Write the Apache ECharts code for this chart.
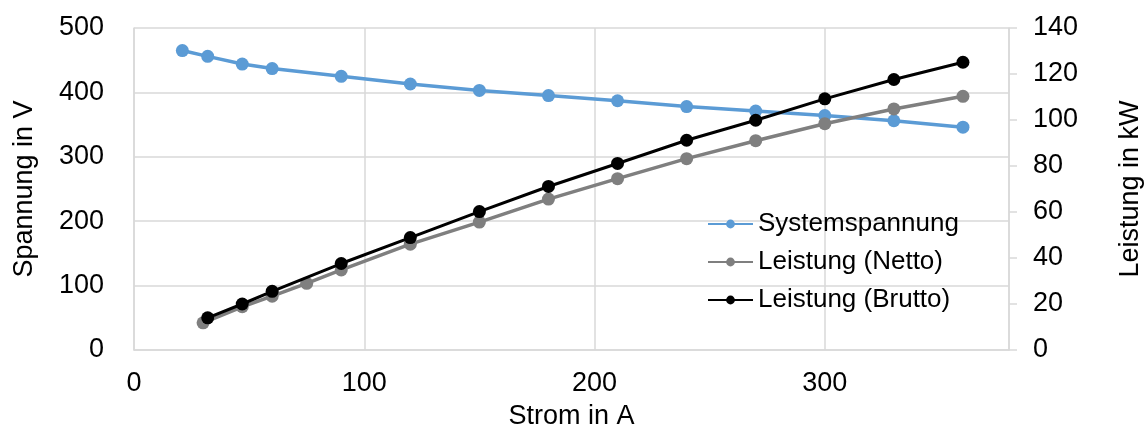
<!DOCTYPE html>
<html><head><meta charset="utf-8">
<script src="https://cdn.jsdelivr.net/npm/echarts@6/dist/echarts.min.js"></script>
<style>html,body{margin:0;padding:0;background:#fff}#c{width:1145px;height:433px}</style>
</head><body><div id="c"></div>
<script>
var voltX = [21, 32, 47, 60, 90, 120, 150, 180, 210, 240, 270, 300, 330, 360];
var voltY = [465, 456, 444, 437, 425, 413, 403, 395, 387, 378, 371, 364, 356, 346];
var nettoX = [30, 47, 60, 75, 90, 120, 150, 180, 210, 240, 270, 300, 330, 360];
var nettoY = [11.8, 18.8, 23.4, 29.0, 34.8, 46.0, 55.6, 65.6, 74.5, 83.2, 91.0, 98.4, 104.8, 110.3];
var bruttoX = [32, 47, 60, 90, 120, 150, 180, 210, 240, 270, 300, 330, 360];
var bruttoY = [14.0, 20.0, 25.5, 37.6, 48.9, 60.2, 71.1, 81.1, 91.2, 99.9, 109.2, 117.6, 125.1];
var seriesNames = ['Systemspannung', 'Leistung (Netto)', 'Leistung (Brutto)'];
function pairs(xs, ys){ return xs.map(function(x,i){ return [x, ys[i]]; }); }
var F = 'Liberation Sans, Arial, sans-serif';
var chart = echarts.init(document.getElementById('c'), null, {renderer:'canvas'});
chart.setOption({
  animation: false,
  textStyle: {fontFamily: F},
  grid: {left: 134, right: 136, top: 28, bottom: 83, containLabel: false, outerBoundsMode: 'none'},
  legend: {
    orient: 'vertical', left: 702, top: 206, itemWidth: 45, itemHeight: 11, itemGap: 12,
    textStyle: {fontFamily: F, fontSize: 26, color: '#000'},
    data: seriesNames
  },
  xAxis: {
    type: 'value', min: 0, max: 380, interval: 100,
    name: 'Strom in A', nameLocation: 'middle', nameGap: 53,
    nameTextStyle: {fontFamily: F, fontSize: 27, color: '#000'},
    axisLine: {show: true, lineStyle: {color: '#d9d9d9', width: 1.5}},
    axisTick: {show: false},
    axisLabel: {fontFamily: F, fontSize: 27, color: '#000', margin: 20, showMaxLabel: false},
    splitLine: {show: true, lineStyle: {color: '#d9d9d9', width: 1.5}}
  },
  yAxis: [{
    type: 'value', min: 0, max: 500, interval: 100,
    name: 'Spannung in V', nameLocation: 'middle', nameGap: 96, nameRotate: 90,
    nameTextStyle: {fontFamily: F, fontSize: 27, color: '#000'},
    axisLine: {show: true, lineStyle: {color: '#d9d9d9', width: 1.5}},
    axisTick: {show: false},
    axisLabel: {fontFamily: F, fontSize: 27, color: '#000', margin: 30},
    splitLine: {show: true, lineStyle: {color: '#d9d9d9', width: 1.5}}
  }, {
    type: 'value', min: 0, max: 140, interval: 20, position: 'right',
    name: 'Leistung in kW', nameLocation: 'middle', nameGap: 108, nameRotate: 90,
    nameTextStyle: {fontFamily: F, fontSize: 27, color: '#000'},
    axisLine: {show: true, lineStyle: {color: '#d9d9d9', width: 1.5}},
    axisTick: {show: true, inside: false, length: 8, lineStyle: {color: '#d9d9d9', width: 1.5}},
    axisLabel: {fontFamily: F, fontSize: 27, color: '#000', margin: 24},
    splitLine: {show: false}
  }],
  series: [{
    name: seriesNames[0], type: 'line', yAxisIndex: 0, data: pairs(voltX, voltY),
    symbol: 'circle', symbolSize: 13, color: '#5b9bd5',
    lineStyle: {width: 3.5, color: '#5b9bd5'}, itemStyle: {color: '#5b9bd5'}, z: 2
  }, {
    name: seriesNames[1], type: 'line', yAxisIndex: 1, data: pairs(nettoX, nettoY),
    symbol: 'circle', symbolSize: 13, color: '#7f7f7f',
    lineStyle: {width: 3.5, color: '#7f7f7f'}, itemStyle: {color: '#7f7f7f'}, z: 3
  }, {
    name: seriesNames[2], type: 'line', yAxisIndex: 1, data: pairs(bruttoX, bruttoY),
    symbol: 'circle', symbolSize: 13, color: '#000000',
    lineStyle: {width: 3, color: '#000000'}, itemStyle: {color: '#000000'}, z: 4
  }]
});
</script></body></html>
